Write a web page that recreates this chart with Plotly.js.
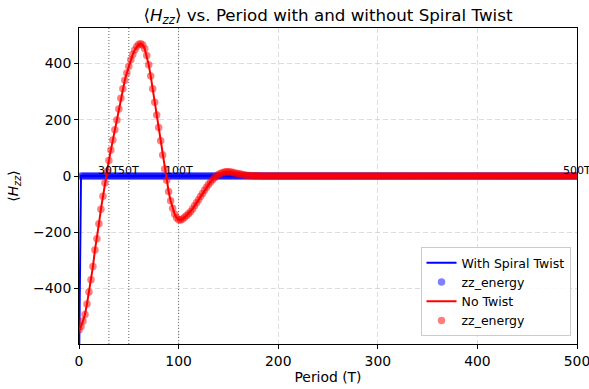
<!DOCTYPE html>
<html>
<head>
<meta charset="utf-8">
<script src="https://cdn.plot.ly/plotly-3.0.1.min.js"></script>
<style>html,body{margin:0;padding:0;background:#fff;}#chart{width:589px;height:389px;}</style>
</head>
<body>
<div id="chart"></div>
<script>
const periods = [
  0,2,4,6,8,10,12,14,16,18,20,22,24,26,28,30,32,34,36,38,40,42,44,46,48,
  50,52,54,56,58,60,62,64,66,68,70,72,74,76,78,80,82,84,86,88,90,92,94,96,98,
  100,102,104,106,108,110,112,114,116,118,120,122,124,126,128,130,132,134,136,138,140,142,144,146,148,
  150,152,154,156,158,160,162,164,166,168,170,172,174,176,178,180,182,184,186,188,190,192,194,196,198,
  200,202,204,206,208,210,212,214,216,218,220,222,224,226,228,230,232,234,236,238,240,242,244,246,248,
  250,252,254,256,258,260,262,264,266,268,270,272,274,276,278,280,282,284,286,288,290,292,294,296,298,
  300,302,304,306,308,310,312,314,316,318,320,322,324,326,328,330,332,334,336,338,340,342,344,346,348,
  350,352,354,356,358,360,362,364,366,368,370,372,374,376,378,380,382,384,386,388,390,392,394,396,398,
  400,402,404,406,408,410,412,414,416,418,420,422,424,426,428,430,432,434,436,438,440,442,444,446,448,
  450,452,454,456,458,460,462,464,466,468,470,472,474,476,478,480,482,484,486,488,490,492,494,496,498,
  500
];
const withTwist = [
  -700,0,0,0,0,0,0,0,0,0,0,0,0,0,0,0,0,0,0,0,0,0,0,0,0,
  0,0,0,0,0,0,0,0,0,0,0,0,0,0,0,0,0,0,0,0,0,0,0,0,0,
  0,0,0,0,0,0,0,0,0,0,0,0,0,0,0,0,0,0,0,0,0,0,0,0,0,
  0,0,0,0,0,0,0,0,0,0,0,0,0,0,0,0,0,0,0,0,0,0,0,0,0,
  0,0,0,0,0,0,0,0,0,0,0,0,0,0,0,0,0,0,0,0,0,0,0,0,0,
  0,0,0,0,0,0,0,0,0,0,0,0,0,0,0,0,0,0,0,0,0,0,0,0,0,
  0,0,0,0,0,0,0,0,0,0,0,0,0,0,0,0,0,0,0,0,0,0,0,0,0,
  0,0,0,0,0,0,0,0,0,0,0,0,0,0,0,0,0,0,0,0,0,0,0,0,0,
  0,0,0,0,0,0,0,0,0,0,0,0,0,0,0,0,0,0,0,0,0,0,0,0,0,
  0,0,0,0,0,0,0,0,0,0,0,0,0,0,0,0,0,0,0,0,0,0,0,0,0,
  0
];
const noTwist = [
  -547,-535,-515,-492,-455,-412,-369,-322,-263,-223,-170,-118,-72,-25,15,55,92,128,164,199,238,276,310,340,366,
  390,413,432,448,460,468,470,466,452,428,395,355,310,262,217,172,125,75,25,-15,-55,-88,-115,-135,-148,
  -155,-156,-153,-147,-140,-134,-127,-117,-106,-95,-84,-73,-62,-51,-40,-30,-21,-13,-6,0,5,9,12,14,15,
  15,14,13,11,10,8,7,5,4,3,2,2,1,1,1,1,0,0,0,0,0,0,0,0,0,
  0,0,0,0,0,0,0,0,0,0,0,0,0,0,0,0,0,0,0,0,0,0,0,0,0,
  0,0,0,0,0,0,0,0,0,0,0,0,0,0,0,0,0,0,0,0,0,0,0,0,0,
  0,0,0,0,0,0,0,0,0,0,0,0,0,0,0,0,0,0,0,0,0,0,0,0,0,
  0,0,0,0,0,0,0,0,0,0,0,0,0,0,0,0,0,0,0,0,0,0,0,0,0,
  0,0,0,0,0,0,0,0,0,0,0,0,0,0,0,0,0,0,0,0,0,0,0,0,0,
  0,0,0,0,0,0,0,0,0,0,0,0,0,0,0,0,0,0,0,0,0,0,0,0,0,
  0
];
const markPeriods = [30, 50, 100, 500];
const markLabels = ["30T", "50T", "100T", "500T"];
const yTicks = [-400, -200, 0, 200, 400];
const xTicks = [0, 100, 200, 300, 400, 500];

const FONT = "DejaVu Sans, sans-serif";
const HZZ = "⟨<i>H</i><sub><i>zz</i></sub>⟩";
const FS = 13.9;

const traces = [
  {x: periods, y: withTwist, mode: "lines", name: "With Spiral Twist",
   line: {color: "#0000ff", width: 2}},
  {x: periods, y: withTwist, mode: "markers", name: "zz_energy",
   marker: {color: "rgba(0,0,255,0.5)", size: 7.5, line: {width: 0}}},
  {x: periods, y: noTwist, mode: "lines", name: "No Twist",
   line: {color: "#ff0000", width: 2}},
  {x: periods, y: noTwist, mode: "markers", name: "zz_energy",
   marker: {color: "rgba(255,0,0,0.5)", size: 7.5, line: {width: 0}}}
];

const shapes = markPeriods.slice(0, 3).map(p => ({
  type: "line", xref: "x", yref: "paper", x0: p, x1: p, y0: 0, y1: 1,
  line: {color: "rgba(60,60,60,0.8)", width: 1, dash: "1px,2px"}, layer: "below"
}));

const annotations = markPeriods.map((p, i) => ({
  x: p, y: 0, xref: "x", yref: "y", text: markLabels[i], showarrow: false,
  xanchor: "center", yanchor: "bottom", yshift: -3,
  font: {family: FONT, size: 11, color: "#000"}
}));

const axisCommon = {
  showline: true, mirror: true, linecolor: "#000", linewidth: 1,
  ticks: "outside", ticklen: 4, tickwidth: 1, tickcolor: "#000",
  showgrid: true, gridcolor: "rgba(170,170,170,0.4)", griddash: "5px,3px", gridwidth: 1,
  zeroline: false, tickfont: {family: FONT, size: FS, color: "#000"},
  ticklabeloverflow: "allow"
};

const layout = {
  width: 589, height: 389,
  margin: {l: 78.5, r: 11.5, t: 28, b: 45},
  paper_bgcolor: "#fff", plot_bgcolor: "#fff",
  font: {family: FONT, color: "#000"},
  title: {text: HZZ + " vs. Period with and without Spiral Twist",
          font: {family: FONT, size: 16.7, color: "#000"},
          xref: "paper", x: 0.5, xanchor: "center",
          yref: "container", y: 0.962, yanchor: "middle"},
  xaxis: Object.assign({}, axisCommon, {
    range: [0, 500], tickvals: xTicks,
    title: {text: "Period (T)", font: {family: FONT, size: FS, color: "#000"}, standoff: 4},
    automargin: false
  }),
  yaxis: Object.assign({}, axisCommon, {
    range: [-597, 526], tickvals: yTicks,
    title: {text: HZZ, font: {family: FONT, size: FS, color: "#000"}, standoff: 11},
    automargin: false
  }),
  showlegend: true,
  legend: {x: 0.987, y: 0.025, xanchor: "right", yanchor: "bottom",
           bgcolor: "rgba(255,255,255,0.85)", bordercolor: "#cccccc", borderwidth: 1,
           font: {family: FONT, size: 12.5, color: "#000"}, tracegroupgap: 0,
           itemwidth: 30},
  shapes: shapes,
  annotations: annotations
};

Plotly.newPlot("chart", traces, layout, {staticPlot: true, displayModeBar: false});
</script>
</body>
</html>
